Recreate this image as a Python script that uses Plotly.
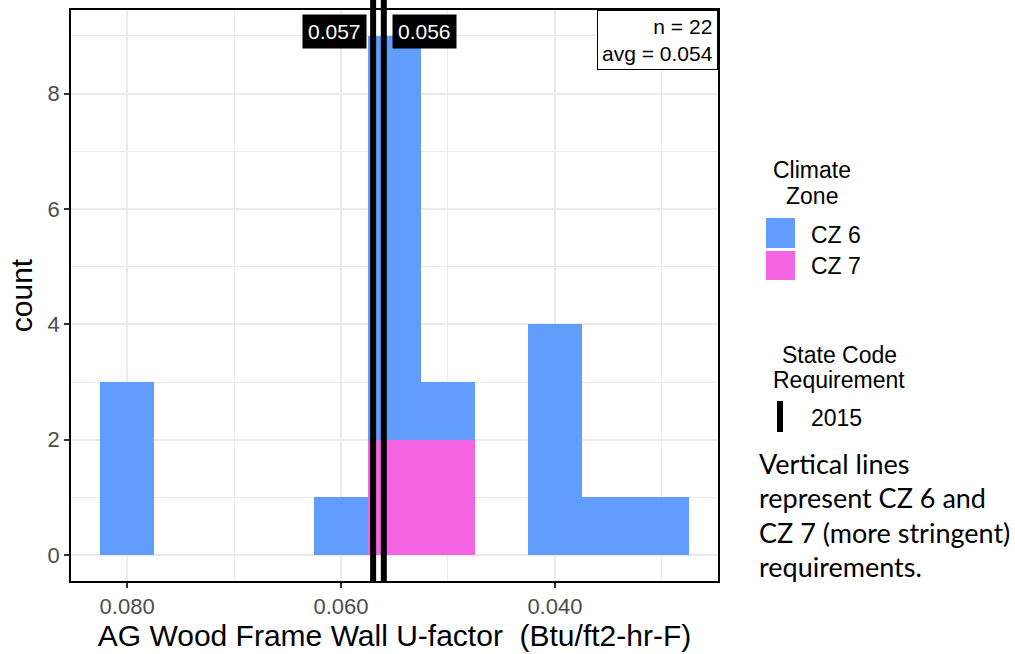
import plotly.graph_objects as go

# Histogram of above-grade wood frame wall U-factors, stacked by climate zone
bin_centers = [0.080, 0.075, 0.070, 0.065, 0.060, 0.055, 0.050, 0.045, 0.040, 0.035, 0.030]
cz6_counts = [3, 0, 0, 0, 1, 7, 1, 0, 4, 1, 1]
cz7_counts = [0, 0, 0, 0, 0, 2, 2, 0, 0, 0, 0]
bin_width = 0.005

# 2015 state code requirements
req_labels = ["0.057", "0.056"]
req_values = [0.057, 0.056]

n_obs = 22
avg_value = "0.054"

x_ticks = [0.080, 0.060, 0.040]
x_tick_text = ["0.080", "0.060", "0.040"]
y_ticks = [0, 2, 4, 6, 8]

BLUE = "#619CFF"
PINK = "#F564E3"
FONT = "Liberation Sans, Arial, sans-serif"

W, H = 1015, 654
L, R, T, B = 71, 718, 10, 581


def px(x):
    return (x - L) / (R - L)


def py(y):
    return (B - y) / (B - T)


fig = go.Figure()
fig.add_trace(go.Bar(x=bin_centers, y=cz7_counts, width=bin_width, name="CZ 7",
                     marker=dict(color=PINK, line=dict(width=0))))
fig.add_trace(go.Bar(x=bin_centers, y=cz6_counts, width=bin_width, name="CZ 6",
                     marker=dict(color=BLUE, line=dict(width=0))))

shapes = []
annotations = []

# requirement lines extend slightly above the panel
for v in req_values:
    shapes.append(dict(type="line", xref="x", yref="paper", x0=v, x1=v,
                       y0=0, y1=py(0), line=dict(color="black", width=6)))

annotations.append(dict(x=req_values[0], y=py(31), xref="x", yref="paper",
                        text=req_labels[0], showarrow=False, xanchor="right", yanchor="middle",
                        xshift=-6, bgcolor="black", borderpad=5,
                        font=dict(family=FONT, size=21, color="white")))
annotations.append(dict(x=req_values[1], y=py(31), xref="x", yref="paper",
                        text=req_labels[1], showarrow=False, xanchor="left", yanchor="middle",
                        xshift=8, bgcolor="black", borderpad=5,
                        font=dict(family=FONT, size=21, color="white")))

# summary box
annotations.append(dict(x=1, y=1, xref="paper", yref="paper", xanchor="right", yanchor="top",
                        text=f"n = {n_obs}<br>avg = {avg_value}", align="right", showarrow=False,
                        bgcolor="white", bordercolor="black", borderwidth=1, borderpad=4,
                        font=dict(family=FONT, size=21, color="black")))

# legend: Climate Zone
for txt, yc in [("Climate", 170), ("Zone", 196)]:
    annotations.append(dict(x=px(812), y=py(yc), xref="paper", yref="paper", text=txt,
                            showarrow=False, xanchor="center", yanchor="middle",
                            font=dict(family=FONT, size=23, color="black")))
for color, y0, y1, lab, yc in [(BLUE, 218, 248, "CZ 6", 235), (PINK, 251, 280, "CZ 7", 266)]:
    shapes.append(dict(type="rect", xref="paper", yref="paper", x0=px(766), x1=px(795),
                       y0=py(y1), y1=py(y0), fillcolor=color, line=dict(width=0)))
    annotations.append(dict(x=px(809), y=py(yc), xref="paper", yref="paper", text=lab,
                            showarrow=False, xanchor="left", yanchor="middle",
                            font=dict(family=FONT, size=23, color="black")))

# legend: State Code Requirement
for txt, yc in [("State Code", 355), ("Requirement", 380)]:
    annotations.append(dict(x=px(839), y=py(yc), xref="paper", yref="paper", text=txt,
                            showarrow=False, xanchor="center", yanchor="middle",
                            font=dict(family=FONT, size=23, color="black")))
shapes.append(dict(type="line", xref="paper", yref="paper", x0=px(780), x1=px(780),
                   y0=py(432), y1=py(401), line=dict(color="black", width=6)))
annotations.append(dict(x=px(809), y=py(418), xref="paper", yref="paper", text="2015",
                        showarrow=False, xanchor="left", yanchor="middle",
                        font=dict(family=FONT, size=23, color="black")))

# explanatory note
note_lines = ["Vertical lines", "represent CZ 6 and", "CZ 7 (more stringent)", "requirements."]
for i, line in enumerate(note_lines):
    annotations.append(dict(x=px(757), y=py(463 + 34.5 * i), xref="paper", yref="paper",
                            text=line, showarrow=False, xanchor="left", yanchor="middle",
                            font=dict(family="Lato, Carlito, sans-serif", size=27, color="black")))

fig.update_layout(
    width=W, height=H,
    margin=dict(l=L, r=W - R, t=T, b=H - B, autoexpand=False),
    barmode="stack",
    bargap=0,
    showlegend=False,
    hovermode=False,
    plot_bgcolor="white",
    paper_bgcolor="white",
    shapes=shapes,
    annotations=annotations,
    font=dict(family=FONT),
)

fig.update_xaxes(
    range=[0.08525, 0.02475],
    automargin=False,
    tickvals=x_ticks, ticktext=x_tick_text,
    ticks="outside", ticklen=5, tickwidth=1.5, tickcolor="#333333",
    tickfont=dict(family=FONT, size=22, color="#4D4D4D"),
    showgrid=True, gridcolor="#EBEBEB", gridwidth=1.6,
    minor=dict(tickvals=[0.070, 0.050, 0.030], showgrid=True, gridcolor="#EBEBEB", gridwidth=0.8),
    showline=True, linecolor="black", linewidth=1.5, mirror=True,
    zeroline=False,
    title=dict(text="AG Wood Frame Wall U-factor  (Btu/ft2-hr-F)", standoff=6,
               font=dict(family=FONT, size=30, color="black")),
)
fig.update_yaxes(
    range=[-0.45, 9.45],
    automargin=False,
    tickvals=y_ticks,
    ticks="outside", ticklen=5, tickwidth=1.5, tickcolor="#333333",
    tickfont=dict(family=FONT, size=22, color="#4D4D4D"),
    showgrid=True, gridcolor="#EBEBEB", gridwidth=1.6,
    minor=dict(tickvals=[1, 3, 5, 7, 9], showgrid=True, gridcolor="#EBEBEB", gridwidth=0.8),
    showline=True, linecolor="black", linewidth=1.5, mirror=True,
    zeroline=False,
    title=dict(text="count", standoff=6, font=dict(family=FONT, size=30, color="black")),
)

fig.write_html("out.html")
